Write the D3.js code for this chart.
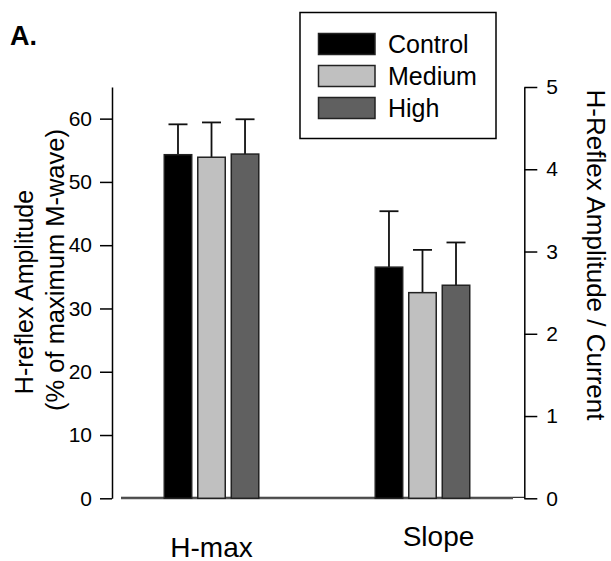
<!DOCTYPE html>
<html>
<head>
<meta charset="utf-8">
<script src="https://cdn.jsdelivr.net/npm/d3@7"></script>
<style>
html,body{margin:0;padding:0;background:#fff;}
svg{display:block;font-family:"Liberation Sans",Arial,Helvetica,sans-serif;}
</style>
</head>
<body>
<svg id="chart" width="611" height="561"></svg>
<script>
// ---- data ----
const categories = ["H-max", "Slope"];
const series = ["Control", "Medium", "High"];
const hmaxValues = [54.3, 53.9, 54.4];
const hmaxErrors = [4.8, 5.5, 5.5];
const slopeValues = [2.81, 2.50, 2.59];
const slopeErrors = [0.68, 0.52, 0.52];
const leftTicks = [0, 10, 20, 30, 40, 50, 60];
const rightTicks = [0, 1, 2, 3, 4, 5];

// ---- styles / layout ----
const fills = ["#000000", "#c0c0c0", "#606060"];
const FONT = '"Liberation Sans",Arial,Helvetica,sans-serif';
const svg = d3.select("#chart");
const yTop = 87, yBottom = 498.3;
const leftX = 112, rightX = 524.3;

const yLeft = d3.scaleLinear().domain([0, 65]).range([yBottom, yTop]);
const yRight = d3.scaleLinear().domain([0, 5]).range([yBottom, yTop]);

const x0 = d3.scaleBand().domain(categories).range([121, 513])
  .paddingInner(0.552).paddingOuter(0.205);
const x1 = d3.scaleBand().domain(series).range([0, x0.bandwidth()])
  .paddingInner(0.18).paddingOuter(0);

// baseline
svg.append("line").attr("x1", 121).attr("x2", rightX).attr("y1", yBottom - 1).attr("y2", yBottom - 1)
  .attr("stroke", "#000").attr("stroke-width", 1);
svg.append("line").attr("x1", 121).attr("x2", 513).attr("y1", yBottom).attr("y2", yBottom)
  .attr("stroke", "#555").attr("stroke-width", 2);

// left axis
const leftAxis = d3.axisLeft(yLeft).tickValues(leftTicks).tickFormat(d3.format("d"))
  .tickSize(12).tickPadding(8).tickSizeOuter(0);
const gl = svg.append("g").attr("transform", `translate(${leftX},0)`).call(leftAxis);
gl.select(".domain").attr("stroke", "#000").attr("stroke-width", 1.5);
gl.selectAll(".tick line").attr("stroke", "#000").attr("stroke-width", 1.5);
gl.selectAll(".tick text").attr("font-size", 21).attr("fill", "#000").attr("font-family", FONT);

// right axis
const rightAxis = d3.axisRight(yRight).tickValues(rightTicks).tickFormat(d3.format("d"))
  .tickSize(13).tickPadding(9).tickSizeOuter(0);
const gr = svg.append("g").attr("transform", `translate(${rightX},0)`).call(rightAxis);
gr.select(".domain").attr("stroke", "#000").attr("stroke-width", 1.5);
gr.selectAll(".tick line").attr("stroke", "#000").attr("stroke-width", 1.5);
gr.selectAll(".tick text").attr("font-size", 21).attr("fill", "#000").attr("font-family", FONT);

// bars
const groups = [
  {cat: "H-max", vals: hmaxValues, errs: hmaxErrors, y: yLeft},
  {cat: "Slope", vals: slopeValues, errs: slopeErrors, y: yRight}
];
groups.forEach(g => {
  const gg = svg.append("g").attr("transform", `translate(${x0(g.cat)},0)`);
  series.forEach((s, i) => {
    const cx = x1(s) + x1.bandwidth() / 2;
    const top = g.y(g.vals[i] + g.errs[i]);
    gg.append("line").attr("x1", cx).attr("x2", cx)
      .attr("y1", g.y(g.vals[i])).attr("y2", top)
      .attr("stroke", "#111").attr("stroke-width", 1.8);
    gg.append("line").attr("x1", cx - 9.5).attr("x2", cx + 9.5)
      .attr("y1", top).attr("y2", top)
      .attr("stroke", "#111").attr("stroke-width", 1.8);
    gg.append("rect").attr("x", x1(s)).attr("width", x1.bandwidth())
      .attr("y", g.y(g.vals[i])).attr("height", g.y(0) - g.y(g.vals[i]))
      .attr("fill", fills[i]).attr("stroke", "#222").attr("stroke-width", 1.5);
  });
});

// category labels
const catLabelOffset = {"H-max": {dx: 0, y: 556.5}, "Slope": {dx: 16, y: 546}};
categories.forEach(c => {
  svg.append("text").attr("x", x0(c) + x0.bandwidth() / 2 + catLabelOffset[c].dx)
    .attr("y", catLabelOffset[c].y).attr("text-anchor", "middle")
    .attr("font-size", 28).attr("fill", "#000").text(c);
});

// left axis title
svg.append("text").attr("transform", "translate(33,292) rotate(-90)")
  .attr("text-anchor", "middle").attr("font-size", 25).attr("fill", "#000").text("H-reflex Amplitude");
svg.append("text").attr("transform", "translate(64,270) rotate(-90)")
  .attr("text-anchor", "middle").attr("font-size", 25.5).attr("fill", "#000").text("(% of maximum M-wave)");

// right axis title
svg.append("text").attr("transform", "translate(587,255) rotate(90)")
  .attr("text-anchor", "middle").attr("font-size", 26).attr("fill", "#000").text("H-Reflex Amplitude / Current");

// panel label
svg.append("text").attr("x", 10).attr("y", 45).attr("font-size", 27).attr("font-weight", "bold")
  .attr("fill", "#000").text("A.");

// legend
const lg = svg.append("g");
lg.append("rect").attr("x", 300).attr("y", 12.5).attr("width", 196).attr("height", 126)
  .attr("fill", "#fff").attr("stroke", "#000").attr("stroke-width", 1.5);
series.forEach((s, i) => {
  const cy = 44 + i * 32;
  lg.append("rect").attr("x", 318.5).attr("y", cy - 10.5).attr("width", 56.5).attr("height", 21)
    .attr("fill", fills[i]).attr("stroke", "#222").attr("stroke-width", 1.5);
  lg.append("text").attr("x", 388).attr("y", cy).attr("dy", "0.36em")
    .attr("font-size", 25).attr("fill", "#000").text(s);
});
</script>
</body>
</html>
